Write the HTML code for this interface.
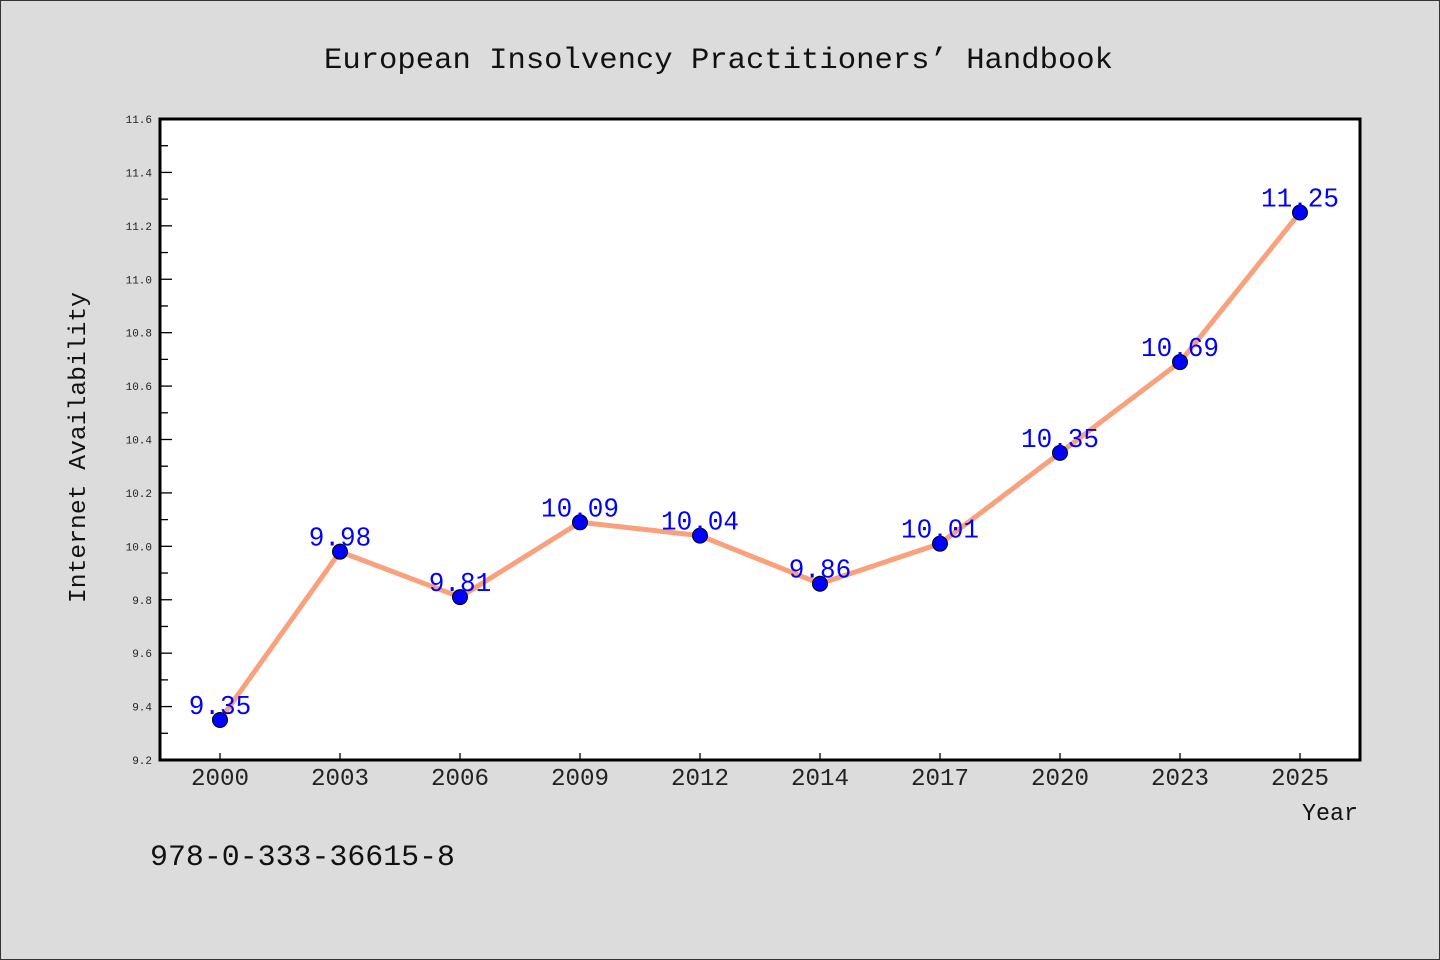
<!DOCTYPE html>
<html><head><meta charset="utf-8"><style>
body{margin:0;background:#dcdcdc;}
svg{display:block;font-family:"WenQuanYi Zen Hei Mono","WenQuanYi Zen Hei","Liberation Mono",monospace;}
</style></head><body>
<svg id="chart" width="1440" height="960">
<rect x="0.5" y="0.5" width="1439" height="959" fill="#dcdcdc" stroke="#333" stroke-width="1"/>
<text x="324" y="68" font-size="30" fill="#111" textLength="789" lengthAdjust="spacingAndGlyphs">European Insolvency Practitioners’ Handbook</text>
<rect x="160" y="119" width="1200" height="641" fill="#fff"/>
<g id="axes"></g>
<g id="marks"></g>
<rect x="160" y="119" width="1200" height="641" fill="none" stroke="#000" stroke-width="3"/>
<text x="0" y="0" font-size="24" fill="#111" textLength="311" lengthAdjust="spacingAndGlyphs" transform="translate(85 603) rotate(-90)">Internet Availability</text>
<text x="1302" y="820" font-size="24" fill="#111" textLength="56" lengthAdjust="spacingAndGlyphs">Year</text>
<text x="150" y="865" font-size="30" fill="#111" textLength="305" lengthAdjust="spacingAndGlyphs">978-0-333-36615-8</text>
</svg>
<script>
const categories=["2000","2003","2006","2009","2012","2014","2017","2020","2023","2025"];
const values=[9.35,9.98,9.81,10.09,10.04,9.86,10.01,10.35,10.69,11.25];
const valueLabels=["9.35","9.98","9.81","10.09","10.04","9.86","10.01","10.35","10.69","11.25"];
const yTicks=[9.2,9.4,9.6,9.8,10.0,10.2,10.4,10.6,10.8,11.0,11.2,11.4,11.6];
const yTickLabels=["9.2","9.4","9.6","9.8","10.0","10.2","10.4","10.6","10.8","11.0","11.2","11.4","11.6"];
const NS="http://www.w3.org/2000/svg";
const L=160,R=1360,T=119,B=760,ymin=9.2,ymax=11.6;
const band=(R-L)/categories.length;
const x=i=>L+band*(i+0.5);
const y=v=>B-(v-ymin)/(ymax-ymin)*(B-T);
const axes=document.getElementById('axes'),marks=document.getElementById('marks');
function mk(tag,attrs,parent){const e=document.createElementNS(NS,tag);for(const k in attrs)e.setAttribute(k,attrs[k]);parent.appendChild(e);return e;}
yTicks.forEach((v,i)=>{
  const t=mk('line',{x1:L,x2:L+12,y1:y(v),y2:y(v),stroke:'#000','stroke-width':1.3},axes);
  
  
  const lb=mk('text',{x:L-8,y:y(v)+4,'text-anchor':'end','font-size':11,fill:'#222'},axes);
  lb.textContent=yTickLabels[i];
  
  
  if(i<yTicks.length-1){
    const m=mk('line',{x1:L,x2:L+8,y1:y(v+0.1),y2:y(v+0.1),stroke:'#000','stroke-width':1.3},axes);
    
    
  }
});
categories.forEach((c,i)=>{
  const t=mk('line',{x1:x(i),x2:x(i),y1:B,y2:B-7,stroke:'#000','stroke-width':1.3},axes);
  
  
  const lb=mk('text',{x:x(i),y:B+25,'text-anchor':'middle','font-size':24,fill:'#222',textLength:58,lengthAdjust:'spacingAndGlyphs'},axes);
  lb.textContent=c;
  
  
});
const pts=values.map((v,i)=>x(i)+','+y(v)).join(' ');
const line=mk('polyline',{points:pts,fill:'none',stroke:'#f9a07c','stroke-width':5,'stroke-linejoin':'round'},marks);


values.forEach((v,i)=>{
  const c=mk('circle',{cx:x(i),cy:y(v),r:7.5,fill:'#0000ff',stroke:'#000','stroke-width':1},marks);
  
  
});
values.forEach((v,i)=>{
  const s=valueLabels[i];
  const t=mk('text',{x:x(i),y:y(v)-6,'text-anchor':'middle','font-size':27,fill:'#0000ff',textLength:s.length*15.6,lengthAdjust:'spacingAndGlyphs'},marks);
  t.textContent=s;
  
  
});
</script>
</body></html>
